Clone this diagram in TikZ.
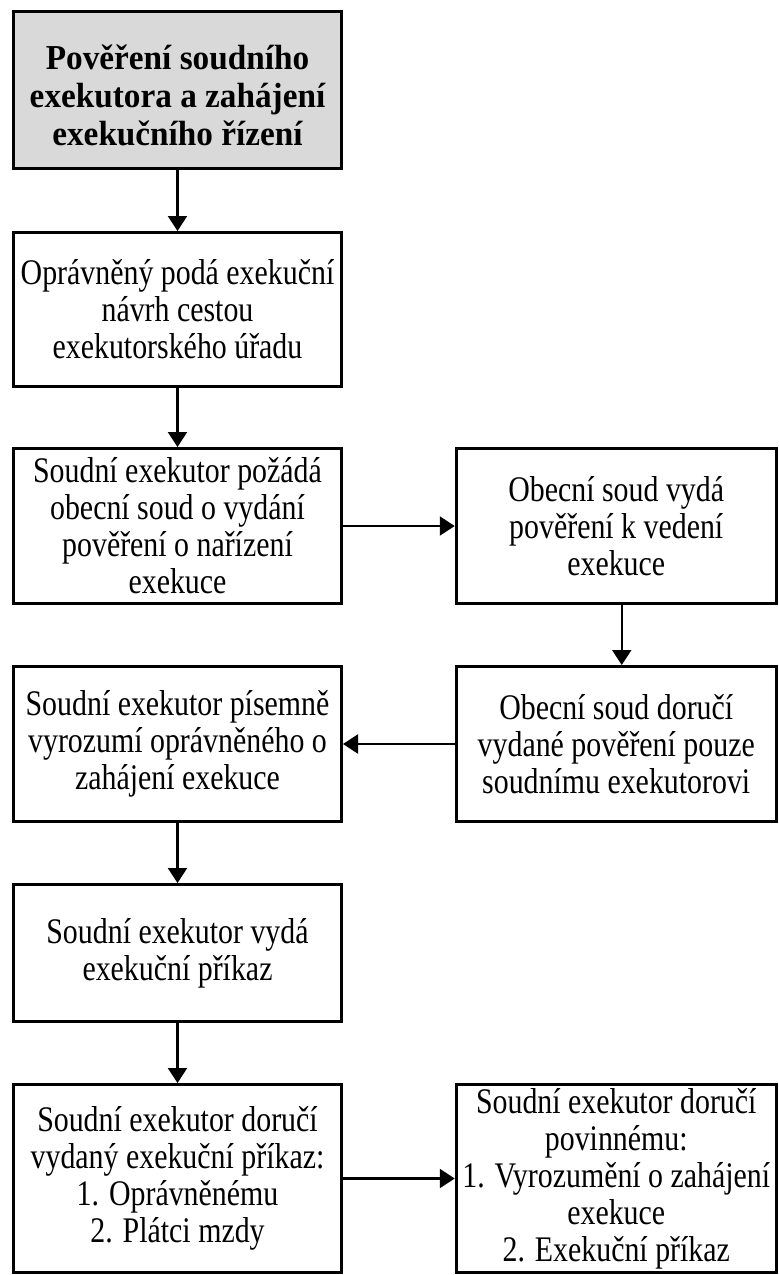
\documentclass[tikz,border=0pt]{standalone}
\usepackage{fontspec}
\setmainfont{Liberation Serif}[FakeStretch=0.83]
\newfontfamily\titlefont{Liberation Serif}[FakeStretch=0.95]
\usetikzlibrary{arrows.meta}
\begin{document}
\begin{tikzpicture}[x=1pt,y=-1pt,
  box/.style={draw, line width=3pt, inner sep=0pt, align=center, font=\fontsize{36}{37}\selectfont},
  lbox/.style={box, minimum width=328pt},
  rbox/.style={box, minimum width=320pt},
  arr/.style={line width=2.2pt, -{Triangle[length=15pt,width=19pt]}}]
\useasboundingbox (0,0) rectangle (779,1275);
\node[lbox, fill=black!15, minimum height=157pt, font=\titlefont\bfseries\fontsize{35}{38}\selectfont] (b1) at (177.5,90) {\rule{0pt}{36pt}Pověření soudního\\exekutora a zahájení\\exekučního řízení};
\node[lbox, minimum height=154pt] (b2) at (177.5,309.5) {Oprávněný podá exekuční\\návrh cestou\\exekutorského úřadu};
\node[lbox, minimum height=155pt] (b3) at (177.5,526) {Soudní exekutor požádá\\obecní soud o vydání\\pověření o nařízení\\exekuce};
\node[rbox, minimum height=155pt] (b4) at (616.25,526) {Obecní soud vydá\\pověření k vedení\\exekuce};
\node[rbox, minimum height=155pt] (b5) at (616.25,744) {Obecní soud doručí\\vydané pověření pouze\\soudnímu exekutorovi};
\node[lbox, minimum height=155pt] (b6) at (177.5,744) {Soudní exekutor písemně\\vyrozumí oprávněného o\\zahájení exekuce};
\node[lbox, minimum height=137pt] (b7) at (177.5,953) {Soudní exekutor vydá\\exekuční příkaz};
\node[lbox, minimum height=188pt] (b8) at (177.5,1178.5) {Soudní exekutor doručí\\vydaný exekuční příkaz:\\1. Oprávněnému\\2. Plátci mzdy};
\node[rbox, minimum height=188pt] (b9) at (616.25,1178.5) {Soudní exekutor doručí\\povinnému:\\1. Vyrozumění o zahájení\\exekuce\\2. Exekuční příkaz};
\draw[arr] (b1) -- (b2);
\draw[arr] (b2) -- (b3);
\draw[arr] (b3) -- (b4);
\draw[arr] ([xshift=5.5pt]b4.south) -- ([xshift=5.5pt]b5.north);
\draw[arr] (b5) -- (b6);
\draw[arr] (b6) -- (b7);
\draw[arr] (b7) -- (b8);
\draw[arr] (b8) -- (b9);
\end{tikzpicture}
\end{document}
